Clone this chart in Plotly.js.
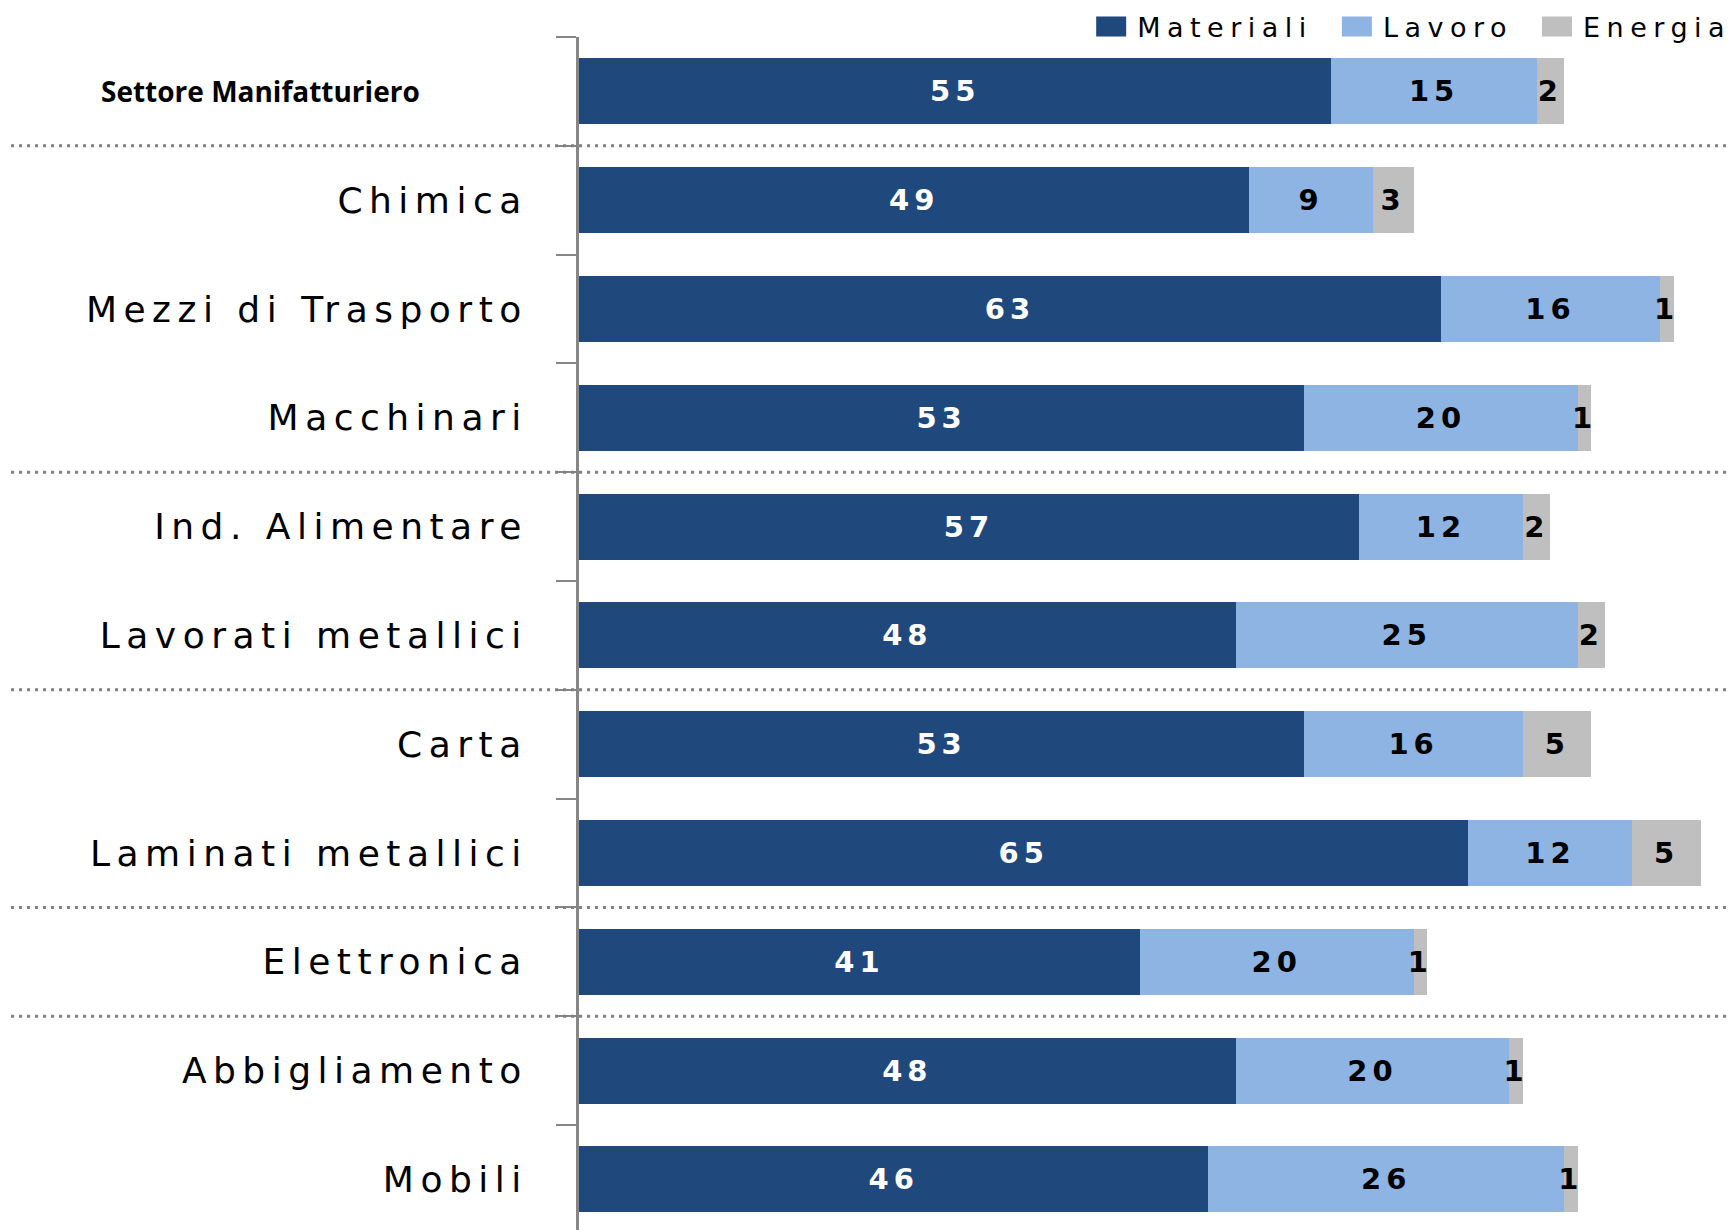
<!DOCTYPE html>
<html>
<head>
<meta charset="utf-8">
<script src="https://cdn.plot.ly/plotly-3.0.1.min.js"></script>
<style>
  html, body { margin: 0; padding: 0; background: #ffffff; overflow: hidden; }
  #chart { width: 1731px; height: 1230px; }
  .ytick text { letter-spacing: 6.5px; }
  .legendtext { letter-spacing: 6.5px; }
  .bartext { letter-spacing: 5px; }
  .legend .legendpoints path { d: path("M21.5,10H-8.5V-10H21.5Z"); }
</style>
</head>
<body>
<div id="chart"></div>
<script>
// ---- data ----
const categories = ['Settore Manifatturiero', 'Chimica', 'Mezzi di Trasporto', 'Macchinari',
  'Ind. Alimentare', 'Lavorati metallici', 'Carta', 'Laminati metallici',
  'Elettronica', 'Abbigliamento', 'Mobili'];
const materiali = [55, 49, 63, 53, 57, 48, 53, 65, 41, 48, 46];
const lavoro    = [15,  9, 16, 20, 12, 25, 16, 12, 20, 20, 26];
const energia   = [ 2,  3,  1,  1,  2,  2,  5,  5,  1,  1,  1];
const seriesNames = ['Materiali', 'Lavoro', 'Energia'];
const totalCategory = 'Settore Manifatturiero';
const groupBreaksAfter = ['Settore Manifatturiero', 'Macchinari', 'Lavorati metallici',
  'Laminati metallici', 'Elettronica'];

// ---- styles ----
const colors = ['#1F497D', '#8EB4E3', '#BFBFBF'];
const labelColors = ['#FFFFFF', '#000000', '#000000'];

const values = [materiali, lavoro, energia];
const traces = values.map((v, i) => ({
  type: 'bar',
  orientation: 'h',
  name: seriesNames[i],
  y: categories,
  x: v,
  text: v.map(String),
  textposition: 'inside',
  insidetextanchor: 'middle',
  textangle: 0,
  constraintext: 'none',
  cliponaxis: false,
  textfont: { family: 'DejaVu Sans', size: 29, weight: 700, color: labelColors[i] },
  marker: { color: colors[i], line: { width: 0 } },
  hoverinfo: 'x+y+name'
}));

const tickText = categories.map(c => (c === totalCategory ? '' : c));

const shapes = groupBreaksAfter.map(c => ({
  type: 'line',
  xref: 'paper', yref: 'y',
  x0: -0.493, x1: 1,
  y0: categories.indexOf(c) + 0.5,
  y1: categories.indexOf(c) + 0.5,
  line: { color: '#808080', width: 3, dash: '3px,5px' },
  layer: 'above'
}));

const layout = {
  width: 1731,
  height: 1230,
  margin: { l: 579, r: 0, t: 37, b: 0, pad: 0, autoexpand: false },
  paper_bgcolor: '#ffffff',
  plot_bgcolor: '#ffffff',
  barmode: 'stack',
  bargap: 0.393,
  showlegend: true,
  legend: {
    orientation: 'h',
    traceorder: 'normal',
    xref: 'paper', yref: 'container',
    x: 1.0045, xanchor: 'right',
    y: 0.978, yanchor: 'middle',
    itemwidth: 55,
    font: { family: 'DejaVu Sans', size: 27, color: '#000000' },
    bgcolor: 'rgba(0,0,0,0)',
    borderwidth: 0
  },
  xaxis: {
    visible: false,
    range: [0, 84.2],
    fixedrange: true
  },
  yaxis: {
    type: 'category',
    categoryorder: 'array',
    categoryarray: categories,
    range: [10.465, -0.5],
    tickmode: 'array',
    tickvals: categories,
    ticktext: tickText,
    tickson: 'boundaries',
    ticks: 'outside',
    ticklen: 20,
    tickwidth: 2,
    tickcolor: '#868686',
    ticklabelstandoff: 41,
    showline: true,
    linecolor: '#868686',
    linewidth: 3,
    showgrid: false,
    zeroline: false,
    fixedrange: true,
    tickfont: { family: 'DejaVu Sans', size: 36, color: '#000000' }
  },
  shapes: shapes,
  annotations: [{
    xref: 'paper', yref: 'y',
    x: -0.4167, xanchor: 'left',
    y: totalCategory, yanchor: 'middle',
    text: totalCategory,
    showarrow: false,
    font: { family: 'Open Sans', size: 28, weight: 700, color: '#000000' }
  }]
};

Plotly.newPlot('chart', traces, layout, { displayModeBar: false, staticPlot: true });
</script>
</body>
</html>
